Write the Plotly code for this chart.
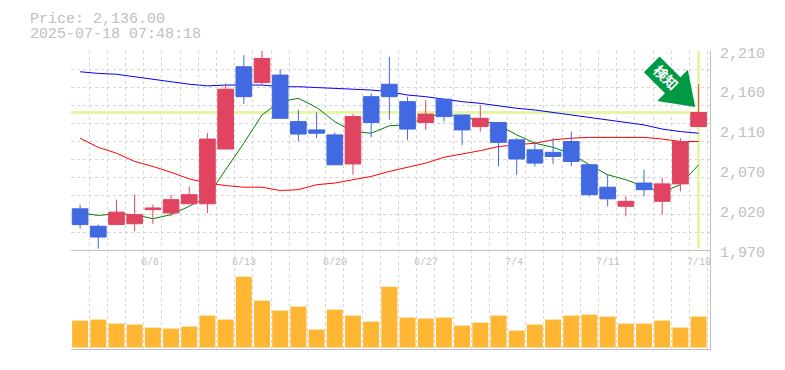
import plotly.graph_objects as go

FONT = "Liberation Mono, monospace"
GREY = "#c0c0c0"
GRID = "#d6d6d6"

price_text = "Price: 2,136.00"
stamp_text = "2025-07-18 07:48:18"
last_price = 2136

opens = [2020,1999,2001,2002,2019,2015,2026,2026,2092,2191,2172,2181,2125,2115,2109,2074,2155,2170,
         2149,2124,2152,2133,2119,2124,2103,2091,2088,2101,2073,2046,2023,2051,2029,2050,2119]
closes = [2001,1986,2016,2013,2021,2031,2037,2104,2164,2155,2201,2129,2110,2111,2073,2131,2124,2155,
          2116,2134,2131,2115,2129,2100,2080,2075,2083,2077,2037,2032,2029,2043,2050,2101,2136]
highs = [2025,2001,2031,2037,2025,2037,2047,2111,2171,2205,2211,2188,2139,2136,2112,2134,2159,2203,
         2155,2151,2152,2133,2145,2124,2105,2100,2105,2113,2073,2061,2035,2067,2057,2105,2170]
lows = [1996,1972,2001,1993,2002,2011,2026,2015,2092,2146,2170,2128,2101,2105,2073,2061,2106,2127,
        2103,2115,2125,2097,2113,2071,2061,2071,2074,2071,2035,2023,2011,2035,2013,2041,2119]
ma_short = [2015,2012,2014,2013,2008,2013,2023,2035,2067,2099,2133,2149,2153,2142,2125,2113,2111,2120,
            2121,2130,2135,2130,2127,2121,2109,2099,2094,2086,2073,2061,2055,2047,2040,2049,2073]
ma_mid = [2105,2094,2087,2077,2071,2064,2056,2051,2048,2046,2046,2042,2043,2049,2051,2055,2059,2065,
          2070,2075,2082,2086,2090,2095,2097,2099,2103,2105,2106,2106,2106,2106,2104,2101,2101]
ma_long = [2185,2183,2182,2179,2176,2173,2170,2168,2169,2169,2169,2167,2167,2166,2165,2164,2163,2161,
           2157,2155,2152,2149,2147,2144,2141,2139,2136,2133,2130,2127,2124,2121,2116,2113,2111]
volumes = [81,84,72,69,60,57,63,96,84,213,141,111,123,54,114,96,78,183,
           90,87,90,66,75,96,51,69,84,96,99,93,72,72,81,60,93]
date_ticks = {4: "6/6", 9: "6/13", 14: "6/20", 19: "6/27", 24: "7/4", 29: "7/11", 34: "7/18"}
price_ticks = [2210, 2162, 2114, 2066, 2018, 1970]
price_labels = ["2,210", "2,160", "2,110", "2,070", "2,020", "1,970"]
index = list(range(len(opens)))

OX, OY = 8, 8  # page body margin
L, T, W, H = 70.5, 50.5, 640, 299
FW, FH = 785 - OX, 370 - OY
def px(x): return (x - L) / W
def py(y): return (T + H - y) / H

x_range = [-0.5, -0.5 + W / 18.22]
x_grid = [i - 0.5 for i in range(len(opens) + 1)]
y_min, y_max = 1970, 2210
y_grid = [y_min + (y_max - y_min) * k / 11 for k in range(12)]

fig = go.Figure()
fig.add_trace(go.Scatter(x=[-0.5, 34], y=[last_price, last_price], mode="lines",
                         line=dict(color="#e6f6a6", width=3), xaxis="x", yaxis="y"))
fig.add_trace(go.Scatter(x=[34, 34], y=[1972, 2210], mode="lines",
                         line=dict(color="#e6f6a6", width=3), xaxis="x", yaxis="y"))
for vals, col in ((ma_short, "#008000"), (ma_mid, "#ff0000"), (ma_long, "#0000ff")):
    fig.add_trace(go.Scatter(x=index, y=vals, mode="lines", line=dict(color=col, width=1),
                             xaxis="x", yaxis="y"))
fig.add_trace(go.Candlestick(
    x=index, open=opens, high=highs, low=lows, close=closes, whiskerwidth=0,
    increasing=dict(line=dict(color="#e04460", width=1), fillcolor="#e04460"),
    decreasing=dict(line=dict(color="#4169e1", width=1), fillcolor="#4169e1"),
    xaxis="x", yaxis="y3"))
fig.add_trace(go.Bar(x=index, y=volumes, marker=dict(color="#ffb733", line=dict(width=0)),
                     xaxis="x2", yaxis="y2"))

annotations = [
    dict(text=price_text, x=px(27), y=py(18.5), xref="paper", yref="paper", xanchor="left",
         yanchor="middle", height=14, showarrow=False, font=dict(family=FONT, size=15, color=GREY)),
    dict(text=stamp_text, x=px(27), y=py(33.5), xref="paper", yref="paper", xanchor="left",
         yanchor="middle", height=14, showarrow=False, font=dict(family=FONT, size=15, color=GREY)),
    dict(text="<b>検知</b>", x=px(666.5), y=py(77), xref="paper", yref="paper", textangle=45,
         xanchor="center", yanchor="middle", showarrow=False,
         font=dict(family="Noto Sans CJK JP", size=14, color="white")),
]
for i, label in date_ticks.items():
    annotations.append(dict(text=label, x=i, y=py(263), xref="x", yref="paper", xanchor="left",
                            yanchor="middle", xshift=-14, showarrow=False,
                            font=dict(family=FONT, size=10, color=GREY)))
for v, label in zip(price_ticks, price_labels):
    annotations.append(dict(text=label, x=px(719), y=v, xref="paper", yref="y", xanchor="left",
                            yanchor="middle", yshift=-3, showarrow=False,
                            font=dict(family=FONT, size=15, color=GREY)))

arrow = [(660, 56), (680.9, 76.9), (688.3, 69.3), (695.7, 106.7), (657.7, 100.7), (665.4, 92.8), (644.3, 71.7)]
arrow_path = "M " + " L ".join(f"{px(a)},{py(b)}" for a, b in arrow) + " Z"

grid_common = dict(showgrid=True, gridcolor=GRID, griddash="3px,3px", gridwidth=1, zeroline=False,
                   showticklabels=False, ticks="", tickmode="array")
fig.update_layout(
    width=FW, height=FH,
    margin=dict(l=L - OX, r=FW - (L - OX) - W, t=T - OY, b=FH - (T - OY) - H, pad=0, autoexpand=False),
    paper_bgcolor="white", plot_bgcolor="white", showlegend=False, boxgap=0.14, boxgroupgap=0, bargap=0.12,
    xaxis=dict(range=x_range, domain=[0, 1], anchor="y", tickvals=x_grid, showline=True,
               linecolor=GREY, linewidth=1, rangeslider=dict(visible=False), **grid_common),
    xaxis2=dict(range=x_range, domain=[0, 1], anchor="y2", tickvals=x_grid, showline=True,
                linecolor=GREY, linewidth=1, **grid_common),
    yaxis=dict(range=[y_min, y_max], domain=[py(250.5), 1], anchor="x", side="right", tickvals=y_grid,
               showline=True, linecolor=GREY, linewidth=1, **grid_common),
    yaxis3=dict(range=[y_min, y_max], domain=[py(250.5), 1], anchor="x", overlaying="y", side="right",
                showgrid=False, showticklabels=False, zeroline=False, ticks=""),
    yaxis2=dict(range=[-4.5, 292.5], domain=[0, py(250.5)], anchor="x2", side="right", showgrid=False,
                zeroline=False, showticklabels=False, ticks="", showline=True, linecolor=GREY, linewidth=1),
    annotations=annotations,
    shapes=[dict(type="path", path=arrow_path, xref="paper", yref="paper",
                 fillcolor="#009944", line=dict(width=0), layer="above")],
)
fig.write_html("out.html")
